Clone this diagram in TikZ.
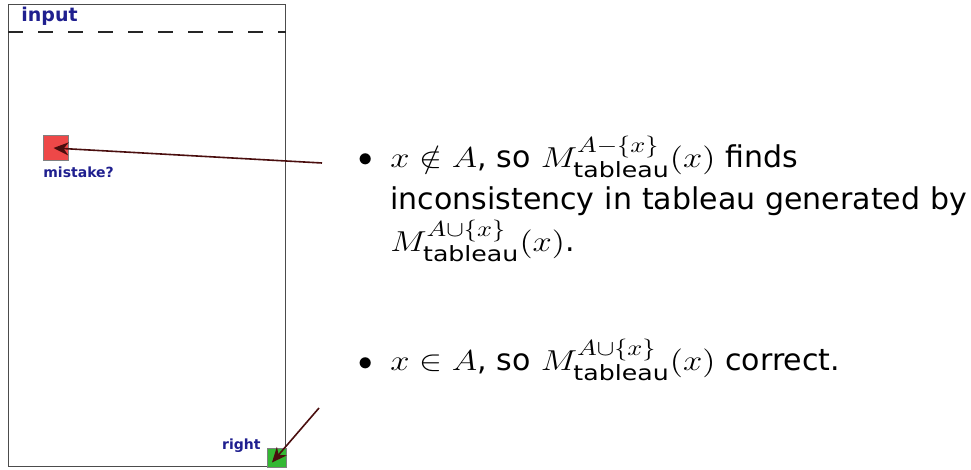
\documentclass[tikz,border=0pt]{standalone}
\usepackage{fontspec}
\setsansfont{DejaVu Sans}
\usetikzlibrary{arrows.meta, positioning}

\definecolor{labelblue}{HTML}{1F1F8F}
\definecolor{arrowred}{HTML}{4A0E0E}
\definecolor{flagred}{HTML}{EE4848}
\definecolor{flaggreen}{HTML}{33B833}

% math in the slide is set a little wider than usual
\newcommand{\widemath}[1]{\scalebox{1.2}[1]{$#1$}}

\begin{document}
\begin{tikzpicture}[
    x=0.5pt, y=-0.5pt,
    tape/.style    = {draw=black!70, line width=0.6pt, inner sep=0pt,
                      minimum width=138.5pt, minimum height=231pt},
    flagbox/.style = {draw=black!50, line width=0.4pt, inner sep=0pt},
    arrow/.style   = {-{Stealth[length=7.5pt, width=6.5pt]}, draw=arrowred, line width=0.8pt},
    lbl/.style     = {font=\fontsize{7}{8}\selectfont\sffamily\bfseries,
                      text=labelblue, inner sep=0pt},
    item/.style    = {font=\fontsize{15}{21}\selectfont\sffamily,
                      text width=292pt, align=left, inner sep=0pt},
    dot/.style     = {font=\fontsize{15}{21}\selectfont, inner sep=0pt}
]
\useasboundingbox (0,0) rectangle (971,470);

%% -- the tape -------------------------------------------------------------
\node[tape, anchor=north west] (tape) at (8,4) {};
\coordinate (cut) at (0,32);
\draw[black!85, line width=0.6pt, dash pattern=on 7.5pt off 7.5pt]
    (tape.west |- cut) -- (tape.east |- cut);
\node[lbl, font=\fontsize{9.5}{10}\selectfont\sffamily\bfseries,
      anchor=base west] (inlbl) at (21,22) {input};

%% -- marked cells ---------------------------------------------------------
\node[flagbox, fill=flagred, minimum size=12.5pt] (miss) at (55.5,148) {};
\node[lbl, anchor=north west] (misslbl) at (43,166) {mistake?};

\node[flagbox, fill=flaggreen, minimum size=9.5pt] (ok) at (277,457.5) {};
\node[lbl, anchor=base east] (oklbl) at (261,450) {right};

%% -- the two cases --------------------------------------------------------
\node[item, anchor=base west] (first) at (390,168)
    {\widemath{x\notin A}, so \widemath{M^{A-\{x\}}_{\mathsf{tableau}}(x)} finds\\
     inconsistency in tableau generated by\\
     \widemath{M^{A\cup\{x\}}_{\mathsf{tableau}}(x)}.};
\node[dot] (b1) at (366,160) {$\bullet$};

\node[item, anchor=base west] (second) at (390,371)
    {\widemath{x\in A}, so \widemath{M^{A\cup\{x\}}_{\mathsf{tableau}}(x)} correct.};
\node[dot] (b2) at (366,364) {$\bullet$};

%% -- pointers -------------------------------------------------------------
\coordinate (tail1) at (322,163);
\coordinate (tail2) at (319,408);
\draw[arrow] (tail1) -- ([xshift=-1pt]miss.center);
\draw[arrow] (tail2) -- ([xshift=-2.5pt, yshift=-2.5pt]ok.center);

\end{tikzpicture}
\end{document}
